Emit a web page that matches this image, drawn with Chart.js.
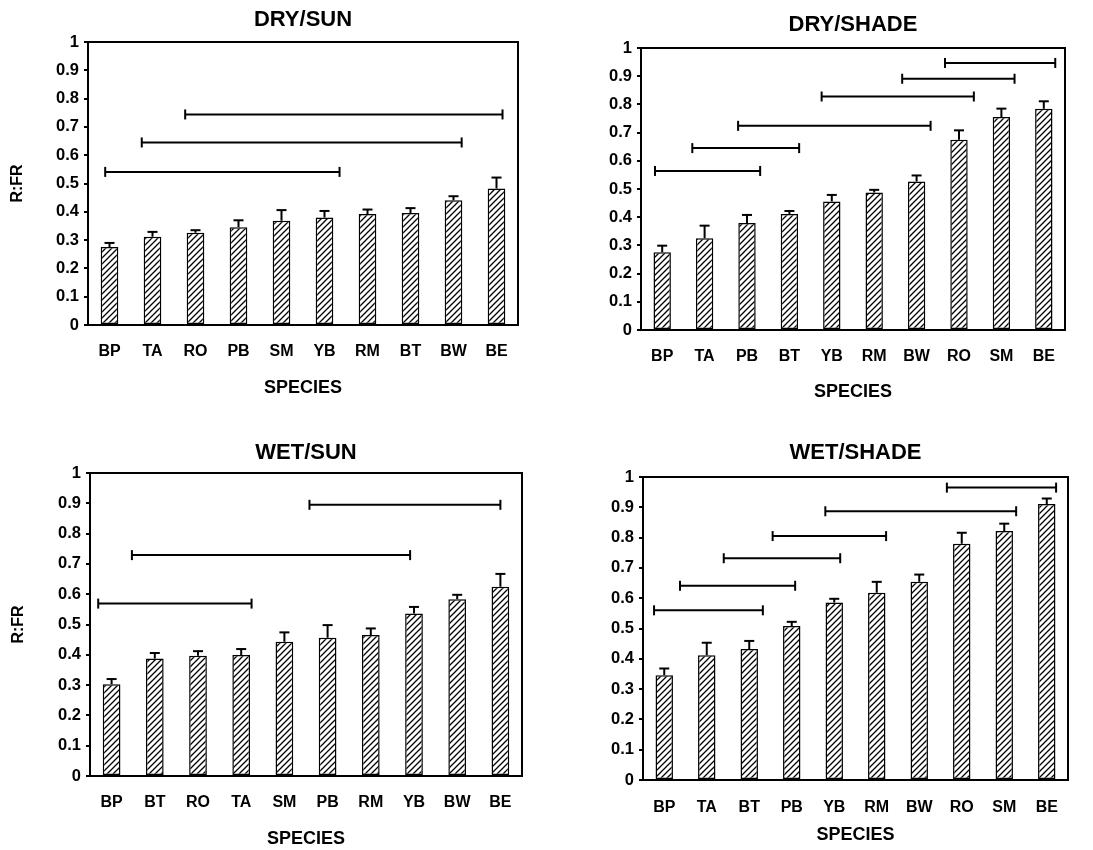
<!DOCTYPE html>
<html>
<head>
<meta charset="utf-8">
<script src="https://cdn.jsdelivr.net/npm/chart.js@4.4.1/dist/chart.umd.min.js"></script>
<style>
  html, body { margin: 0; padding: 0; background: #fff; }
  canvas { position: absolute; }
</style>
</head>
<body>
<canvas id="drySun" width="546" height="425" style="left:0;top:0"></canvas>
<canvas id="dryShade" width="547" height="425" style="left:546px;top:0"></canvas>
<canvas id="wetSun" width="546" height="425" style="left:0;top:425px"></canvas>
<canvas id="wetShade" width="547" height="425" style="left:546px;top:425px"></canvas>
<script>
// species order differs per panel (sorted by mean R:FR)
const drySunSpecies = ['BP', 'TA', 'RO', 'PB', 'SM', 'YB', 'RM', 'BT', 'BW', 'BE'];
const drySunMeans = [0.276, 0.312, 0.326, 0.345, 0.368, 0.380, 0.392, 0.396, 0.441, 0.482];
const drySunErrors = [0.014, 0.017, 0.009, 0.025, 0.038, 0.023, 0.016, 0.017, 0.014, 0.039];
// [level, from, to] in species-index units
const drySunGroups = [[0.541, -0.10, 5.35], [0.645, 0.75, 8.19], [0.744, 1.76, 9.14]];

const dryShadeSpecies = ['BP', 'TA', 'PB', 'BT', 'YB', 'RM', 'BW', 'RO', 'SM', 'BE'];
const dryShadeMeans = [0.276, 0.325, 0.379, 0.411, 0.456, 0.488, 0.527, 0.675, 0.755, 0.785];
const dryShadeErrors = [0.023, 0.045, 0.029, 0.011, 0.023, 0.009, 0.021, 0.033, 0.030, 0.026];
const dryShadeGroups = [[0.564, -0.17, 2.31], [0.645, 0.71, 3.23], [0.724, 1.79, 6.33],
  [0.828, 3.76, 7.35], [0.891, 5.66, 8.31], [0.947, 6.67, 9.27]];

const wetSunSpecies = ['BP', 'BT', 'RO', 'TA', 'SM', 'PB', 'RM', 'YB', 'BW', 'BE'];
const wetSunMeans = [0.303, 0.388, 0.397, 0.399, 0.443, 0.456, 0.465, 0.536, 0.583, 0.625];
const wetSunErrors = [0.017, 0.018, 0.015, 0.020, 0.031, 0.042, 0.022, 0.022, 0.015, 0.042];
const wetSunGroups = [[0.569, -0.31, 3.24], [0.729, 0.47, 6.91], [0.895, 4.58, 9.0]];

const wetShadeSpecies = ['BP', 'TA', 'BT', 'PB', 'YB', 'RM', 'BW', 'RO', 'SM', 'BE'];
const wetShadeMeans = [0.346, 0.412, 0.432, 0.508, 0.586, 0.618, 0.654, 0.780, 0.822, 0.911];
const wetShadeErrors = [0.022, 0.041, 0.027, 0.014, 0.012, 0.036, 0.024, 0.036, 0.024, 0.018];
const wetShadeGroups = [[0.560, -0.24, 2.32], [0.641, 0.37, 3.08], [0.732, 1.40, 4.14],
  [0.805, 2.55, 5.22], [0.887, 3.79, 8.28], [0.965, 6.65, 9.22]];

const FONT = '"Liberation Sans", Arial, Helvetica, sans-serif';
Chart.defaults.font.family = FONT;
Chart.defaults.color = '#000';

function hatch(ctx) {
  const s = 6;
  const tile = document.createElement('canvas');
  tile.width = s;
  tile.height = s;
  const g = tile.getContext('2d');
  g.fillStyle = '#fff';
  g.fillRect(0, 0, s, s);
  g.strokeStyle = '#000';
  g.lineWidth = 1.3;
  g.beginPath();
  g.moveTo(0, s); g.lineTo(s, 0);
  g.moveTo(-1, 1); g.lineTo(1, -1);
  g.moveTo(s - 1, s + 1); g.lineTo(s + 1, s - 1);
  g.stroke();
  return ctx.createPattern(tile, 'repeat');
}

const frame = {
  id: 'frame',
  afterDraw(chart) {
    const { ctx, chartArea: a } = chart;
    ctx.save();
    ctx.strokeStyle = '#000';
    ctx.lineWidth = 2;
    ctx.strokeRect(a.left, a.top, a.right - a.left, a.bottom - a.top);
    ctx.restore();
  }
};

function panel(id, title, species, means, errors, groups, lay) {
  const el = document.getElementById(id);
  const ctx = el.getContext('2d');

  const errPts = [];
  const errRad = [];
  means.forEach((m, i) => {
    errPts.push({ x: i, y: m }, { x: i, y: m + errors[i] }, { x: i, y: null });
    errRad.push(0, 5, 0);
  });

  const brackets = groups.map(([lvl, a, b]) => ({
    type: 'line',
    order: 1,
    data: [{ x: a, y: lvl }, { x: b, y: lvl }],
    borderColor: '#000',
    borderWidth: 2,
    pointStyle: 'line',
    pointRotation: 90,
    pointRadius: 5,
    pointBorderWidth: 2,
    pointBorderColor: '#000',
    clip: false
  }));

  return new Chart(ctx, {
    type: 'bar',
    data: {
      datasets: [
        {
          data: means.map((m, i) => ({ x: i, y: m })),
          order: 2,
          grouped: false,
          backgroundColor: hatch(ctx),
          borderColor: '#000',
          borderWidth: 1.5,
          borderSkipped: false,
          categoryPercentage: 1,
          barPercentage: 0.41
        },
        {
          type: 'line',
          order: 1,
          data: errPts,
          borderColor: '#000',
          borderWidth: 2,
          spanGaps: false,
          pointStyle: 'line',
          pointRadius: errRad,
          pointBorderWidth: 2,
          pointBorderColor: '#000'
        },
        ...brackets
      ]
    },
    options: {
      responsive: false,
      animation: false,
      events: [],
      layout: { padding: { left: 0, right: lay.right, top: 0, bottom: lay.bottom } },
      plugins: {
        legend: { display: false },
        tooltip: { enabled: false },
        title: {
          display: true,
          text: title,
          fullSize: false,
          font: { size: 22, weight: 'bold' },
          color: '#000',
          padding: { top: lay.titleTop, bottom: lay.titleBottom }
        }
      },
      scales: {
        x: {
          type: 'linear',
          offset: false,
          min: -0.5,
          max: 9.5,
          afterBuildTicks(s) { s.ticks = species.map((_, i) => ({ value: i })); },
          grid: { display: false, drawTicks: false, offset: false },
          border: { color: '#000', width: 2 },
          ticks: {
            font: { size: 16, weight: 'bold' },
            padding: lay.tickPad,
            maxRotation: 0,
            autoSkip: false,
            callback: (v) => species[v] ?? ''
          },
          title: { display: true, text: 'SPECIES', font: { size: 18, weight: 'bold' }, padding: 0 },
          afterFit(s) { s.height = lay.xHeight; }
        },
        y: {
          min: 0,
          max: 1,
          ticks: {
            stepSize: 0.1,
            font: { size: 16.5, weight: 'bold' },
            padding: 5,
            callback: (v) => String(Math.round(v * 10) / 10)
          },
          grid: { drawOnChartArea: false, drawTicks: true, tickLength: 4, color: '#000', lineWidth: 2 },
          border: { color: '#000', width: 2 },
          title: {
            display: lay.yTitle,
            text: 'R:FR',
            font: { size: 16, weight: 'bold' },
            padding: { top: lay.yTitlePad, bottom: 0 }
          },
          afterFit(s) { s.width = lay.yWidth; }
        }
      }
    },
    plugins: [frame]
  });
}

panel('drySun', 'DRY/SUN', drySunSpecies, drySunMeans, drySunErrors, drySunGroups,
  { right: 28, bottom: 26, titleTop: 7, titleBottom: 8.6, tickPad: 17, xHeight: 74, yWidth: 88, yTitle: true, yTitlePad: 8 });
panel('dryShade', 'DRY/SHADE', dryShadeSpecies, dryShadeMeans, dryShadeErrors, dryShadeGroups,
  { right: 28, bottom: 22, titleTop: 12, titleBottom: 9.6, tickPad: 17, xHeight: 73, yWidth: 95, yTitle: false, yTitlePad: 0 });
panel('wetSun', 'WET/SUN', wetSunSpecies, wetSunMeans, wetSunErrors, wetSunGroups,
  { right: 24, bottom: 0, titleTop: 15, titleBottom: 6.6, tickPad: 17, xHeight: 74, yWidth: 90, yTitle: true, yTitlePad: 9 });
panel('wetShade', 'WET/SHADE', wetShadeSpecies, wetShadeMeans, wetShadeErrors, wetShadeGroups,
  { right: 25, bottom: 4, titleTop: 15, titleBottom: 10.6, tickPad: 18, xHeight: 66, yWidth: 97, yTitle: false, yTitlePad: 0 });
</script>
</body>
</html>
